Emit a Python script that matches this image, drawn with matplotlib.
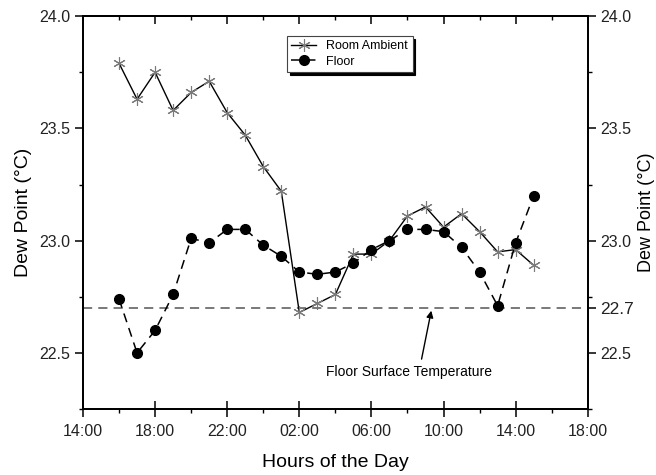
import numpy as np
import matplotlib
matplotlib.use("Agg")
import matplotlib.pyplot as plt
from matplotlib.ticker import MultipleLocator

plt.rcParams['font.family'] = ['Liberation Sans', 'DejaVu Sans']

# Hours since midnight of day 1 (16:00 day 1 ... 15:00 day 2)
hours = np.arange(16, 40)

room_ambient = [23.79, 23.63, 23.75, 23.58, 23.66, 23.71, 23.57, 23.47,
                23.33, 23.22, 22.68, 22.72, 22.76, 22.94, 22.94, 23.00,
                23.11, 23.15, 23.06, 23.12, 23.04, 22.95, 22.96, 22.89]
floor = [22.74, 22.50, 22.60, 22.76, 23.01, 22.99, 23.05, 23.05,
         22.98, 22.93, 22.86, 22.85, 22.86, 22.90, 22.96, 23.00,
         23.05, 23.05, 23.04, 22.97, 22.86, 22.71, 22.99, 23.20]

floor_surface_temp = 22.7

x_ticks = [14, 18, 22, 26, 30, 34, 38, 42]
x_tick_labels = ['14:00', '18:00', '22:00', '02:00', '06:00', '10:00', '14:00', '18:00']
left_ticks = [22.5, 23.0, 23.5, 24.0]
right_ticks = [22.5, 22.7, 23.0, 23.5, 24.0]

fig = plt.figure(figsize=(6.56, 4.75), dpi=100)
ax = fig.add_axes([0.1265, 0.139, 0.7695, 0.827])

ax.axhline(floor_surface_temp, color='#555555', lw=1.1, dashes=(6, 4))

ax.plot(hours, room_ambient, color='black', lw=1.0, marker=(6, 2, 0),
        markersize=9, markeredgecolor='#7a7a7a', markeredgewidth=0.8,
        label='Room Ambient')
ax.plot(hours, floor, color='black', lw=1.1, dashes=(6, 4), marker='o',
        markersize=7, markerfacecolor='black', markeredgecolor='black',
        label='Floor')

ax.set_xlim(14, 42)
ax.set_ylim(22.25, 24.0)
ax.set_xticks(x_ticks)
ax.set_xticklabels(x_tick_labels)
ax.xaxis.set_minor_locator(MultipleLocator(2))
ax.set_yticks(left_ticks)
ax.set_yticklabels([f'{t:.1f}' for t in left_ticks])
ax.yaxis.set_minor_locator(MultipleLocator(0.25))

ax.tick_params(axis='x', which='major', direction='inout', length=11, width=1.1,
               labelsize=11.5, pad=5, labelcolor='#222222')
ax.tick_params(axis='x', which='minor', direction='out', length=3, width=1)
ax.tick_params(axis='y', which='major', direction='out', length=6, width=1.1,
               labelsize=11.5, pad=3, labelcolor='#222222')
ax.tick_params(axis='y', which='minor', direction='out', length=3, width=1)

# top axis: ticks pointing inward, no labels
top = ax.secondary_xaxis('top')
top.set_xticks(x_ticks)
top.xaxis.set_minor_locator(MultipleLocator(2))
top.tick_params(axis='x', which='major', direction='in', length=6, width=1.1, labeltop=False)
top.tick_params(axis='x', which='minor', direction='in', length=3, width=1)

ax2 = ax.twinx()
ax2.set_ylim(22.25, 24.0)
ax2.set_yticks(right_ticks)
ax2.set_yticklabels([f'{t:.1f}' for t in right_ticks])
ax2.yaxis.set_minor_locator(MultipleLocator(0.25))
ax2.tick_params(axis='y', which='major', direction='out', length=6, width=1.1,
                labelsize=11.5, pad=3, labelcolor='#222222')
ax2.tick_params(axis='y', which='minor', direction='out', length=3, width=1)
for lbl in ax2.get_yticklabels():
    if lbl.get_text() == '22.7':
        lbl.set_fontsize(12.5)
ax2.set_ylabel('Dew Point (°C)', fontsize=13, labelpad=3)

for a in (ax, ax2, top):
    for s in a.spines.values():
        s.set_linewidth(1.3)

ax.set_xlabel('Hours of the Day', fontsize=14, labelpad=11)
ax.set_ylabel('Dew Point (°C)', fontsize=14, labelpad=5)

ax.annotate('', xy=(33.35, 22.7), xytext=(32.75, 22.46),
            arrowprops=dict(arrowstyle='-|>', color='black', lw=1.0, mutation_scale=10))
ax.text(32.1, 22.415, 'Floor Surface Temperature', fontsize=10, ha='center', va='center')

leg = ax.legend(loc='upper left', bbox_to_anchor=(0.4375, 0.924), bbox_transform=fig.transFigure,
                fontsize=9, frameon=True, fancybox=False, borderaxespad=0,
                handlelength=2.0, borderpad=0.35, labelspacing=0.25,
                shadow={'color': 'black', 'alpha': 1.0})
leg.get_frame().set_edgecolor('#444444')
leg.get_frame().set_linewidth(0.8)

fig.savefig('out.png', dpi=100)
